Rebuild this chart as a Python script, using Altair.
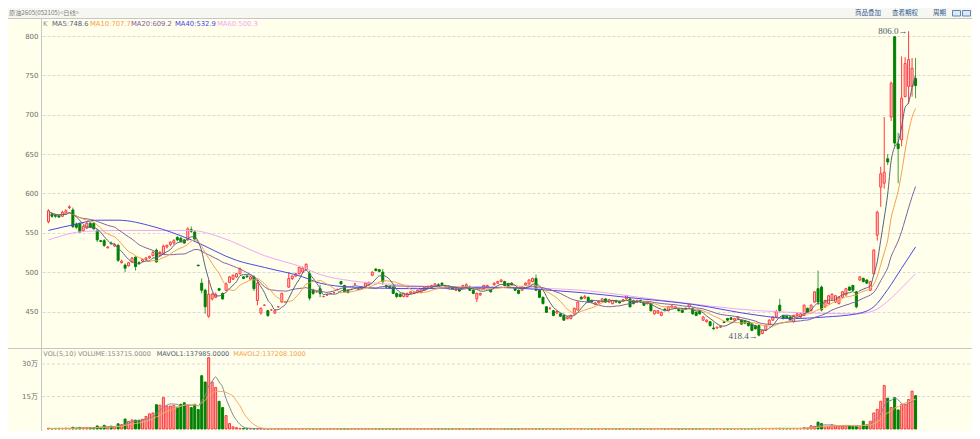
import altair as alt
import pandas as pd

# ---------------- data ----------------
open_ = [564,574,572,572,571,575,582,579,561,562, 553,556,562,562,553,540,540,531,537,533,
         534,512,509,508,513,519,512,514,516,518, 521,528,521,524,532,535,537,
         544,543,541,541,554,551,509,486,477,444, 466,468,479,473,477,487,491,494,498,494,
         495,491,494,464,
         448,458,451,452,448,456,462,462,481,492, 495,498,500,503,498,477,475,479,469,471,
         473,474,478,488,483,477,478,485,479,480, 482,484,496,504,503,500,483,482,481,473,
         472,469,469,473,473,474,474,477,480,481, 482,484,486,482,482,481,477,478,481,482,
         481,477,466,471,479,481,477,484,486,488, 488,485,486,480,477,477,484,485,488,492,
         477,468,456,454,451,448,447,445,441,441, 447,452,
         468,467,468,464,459,461,463,466,462,460, 464,463,463,466,466,464,462,464,462,460,
         460,447,448,445,453,451,455,454,453,453, 454,456,454,449,451,439,437,437,429,429,
         430,437,441,442,439,441,439,438,437,434, 432,432,422,426,434,439,
         443,458,445,444,443,437,445,443,445,454, 451,462,479,481,456,460,466,462,460,468,
         471,481,483,475,490,492,490,477,498,547, 608,613,644,697,799,663,668,723,736,736,746]
high = [580,576,574,574,578,580,585,582,563,563, 560,564,564,563,555,541,542,533,539,537,
        536,516,511,513,519,520,514,517,519,521, 527,530,527,535,535,539,542,
        546,545,542,557,558,553,509,492,479,490, 474,474,480,474,487,495,497,499,506,495,
        496,495,496,490,
        455,459,452,453,452,457,474,463,500,496, 499,507,507,511,502,479,476,484,470,471,
        473,474,479,489,484,478,479,486,480,482, 487,488,501,505,504,504,484,483,482,474,
        473,474,474,476,476,478,480,482,483,484, 486,486,487,484,483,482,480,479,484,486,
        483,478,474,474,484,484,478,487,489,491, 489,486,487,481,478,482,487,491,493,497,
        478,469,457,456,452,451,448,446,444,446, 455,463,
        470,471,469,465,462,464,467,467,466,465, 465,464,466,471,467,465,465,465,463,463,
        461,452,452,450,454,457,458,457,454,454, 455,461,455,450,452,444,440,438,436,431,
        432,438,442,443,442,444,440,439,438,435, 433,433,427,433,440,444,
        452,466,446,445,444,446,448,448,459,455, 459,476,502,483,465,471,473,471,469,476,
        480,482,484,476,495,493,491,489,529,578, 634,697,650,742,800,677,774,773,806,772,772]
low = [562,569,569,569,570,574,580,556,555,550, 551,555,556,554,538,538,532,530,535,532,
       513,511,500,507,512,502,509,513,515,517, 520,512,520,522,530,533,535,
       539,538,536,540,550,540,508,473,447,442, 464,467,476,465,476,486,490,493,497,491,
       493,490,476,458,
       446,457,443,451,447,455,461,461,480,490, 494,497,499,502,464,471,474,468,468,470,
       472,473,477,484,474,473,477,484,478,479, 481,483,495,501,500,484,480,479,472,467,
       468,468,468,472,472,473,473,476,479,480, 481,481,483,480,479,478,476,475,480,481,
       476,472,462,470,478,480,474,483,485,487, 482,481,483,476,472,476,483,484,487,476,
       467,459,448,452,444,447,443,438,440,440, 446,451,
       465,466,461,461,458,460,462,461,461,459, 461,460,462,465,455,459,461,461,457,459,
       450,446,447,444,451,450,454,453,450,448, 452,455,446,444,446,438,436,431,427,428,
       429,435,438,439,438,440,433,434,431,425, 427,418.4,421,425,433,438,
       442,449,440,441,438,436,444,442,444,448, 450,461,458,450,455,459,465,461,459,467,
       470,476,476,454,489,487,485,476,497,540, 583,606,636,692,660,613,660,722,714,723,721]
close = [578,571,571,570,576,578,583,558,557,551, 558,562,557,555,541,539,534,532,536,535,
         515,514,505,512,518,507,511,516,518,520, 525,513,525,533,534,538,540,
         541,539,537,555,552,542,508,477,456,472, 472,472,477,466,485,494,496,498,504,492,
         494,494,479,486,
         454,458,445,452,451,456,473,462,492,495, 498,506,505,510,467,473,475,473,469,471,
         473,474,478,485,475,474,478,485,479,481, 486,487,500,502,501,488,481,480,473,469,
         469,473,473,475,475,477,479,481,482,483, 485,482,484,481,480,479,479,476,483,484,
         477,473,473,473,483,483,475,486,488,490, 483,482,484,477,473,481,486,490,492,477,
         468,460,449,454,445,450,444,439,443,445, 454,462,
         466,469,462,462,461,463,466,462,465,464, 462,461,465,470,456,460,464,462,458,462,
         451,451,451,449,452,456,457,456,451,449, 453,460,447,445,447,443,439,432,428,430,
         431,436,439,440,441,443,434,435,432,426, 428,420,426,432,439,443,
         450,451,441,442,439,445,447,447,458,449, 458,475,462,452,464,470,472,470,468,475,
         479,477,477,456,494,488,486,488,528,576, 625,627,640,740,664,657,721,765,770,759,737]
volume = [3000,2000,2500,3000,2500,3500,2000,8000,4000,7500, 4000,6000,5000,6000,14000,8000,17000,9000,13000,10000,
          24000,20000,46000,35000,42000,41000,40000,45000,58000,70000, 74000,112000,110000,145000,106000,106000,108000,
          101000,114000,121000,110000,99000,114000,90000,246000,217000,329000, 217000,192000,128000,99000,62000,25000,10000,6000,3000,2000,
          1500,1500,1500,1200,
          1200,1000,1500,800,1000,900,1300,1100,1600,1400, 1200,1500,1300,1600,1800,1200,900,1100,800,700,
          800,900,1000,1200,1100,900,800,1000,900,1000, 1100,1200,1500,1300,1200,1400,1100,1000,1200,1100,
          900,1000,900,800,900,1000,1100,1000,900,1000, 1100,1000,1200,1100,1000,900,1000,900,1100,1200,
          1000,1100,1300,1000,1100,1000,900,1200,1100,1300, 1200,1000,1100,1000,1100,1200,1300,1400,1500,1600,
          1500,1700,1800,1400,1600,1500,1400,1700,1500,1600, 1800,2000,
          1800,1500,1600,1400,1300,1400,1500,1300,1400,1200, 1300,1200,1400,1500,1600,1400,1300,1200,1300,1400,
          1600,1500,1400,1300,1200,1400,1300,1200,1300,1400, 1300,1500,1600,1500,1400,1700,1600,1800,2000,1900,
          1800,1700,1600,1700,1600,1700,1900,2000,2100,2400, 2300,2800,2600,2500,2400,2600,
          2800,3200,2600,2400,2500,2700,2600,3000,
          6000,4000,15000,12000,32000,25000,12000,12000,18000,15000,
          12000,14000,16000,15000,14000,14000,10000,36000,18000,36000,
          74000,91000,128000,201000,142000,99000,145000,88000,114000,114000,
          136000,175000,153715]

ma40_idx = [0, 8, 14, 20, 30, 41, 54, 62, 73, 78, 87, 106, 125, 144, 153, 166, 185, 204, 213, 223, 232, 237, 241, 245, 249]
ma40_val = [553, 561, 566, 566, 558, 541, 515, 506, 494, 486, 481, 479, 481, 477, 474, 468, 459, 445, 441, 443, 447, 456, 478, 505, 532]
ma60_idx = [0, 11, 22, 41, 49, 62, 73, 78, 87, 97, 116, 136, 153, 175, 204, 220, 232, 237, 241, 245, 249]
ma60_val = [541, 552, 553, 553, 545, 521, 506, 497, 489, 485, 481, 480, 477, 465, 451, 448, 447, 451, 463, 480, 498]

price_ticks = [450, 500, 550, 600, 650, 700, 750, 800]
vol_ticks = [300000, 150000]
vol_tick_text = ["30万", "15万"]

mark_idx = [247, 204]
mark_val = [806.0, 418.4]
mark_text = ["806.0→", "418.4→"]

title_text = "原油2605(052105)<日线>"
menu_items = ["商品叠加", "查看期权", "周期"]
legend_items = ["K", "MA5:748.6", "MA10:707.7", "MA20:609.2", "MA40:532.9", "MA60:500.3"]
vol_items = ["VOL(5,10) VOLUME:153715.0000", "MAVOL1:137985.0000", "MAVOL2:137208.1000"]

N = len(close)
assert len(open_) == N and len(high) == N and len(low) == N and len(volume) == N

df = pd.DataFrame({"i": list(range(N)), "o": open_, "h": high, "l": low, "c": close, "v": volume})
ma40 = pd.DataFrame({"i": ma40_idx, "m": ma40_val})
ma60 = pd.DataFrame({"i": ma60_idx, "m": ma60_val})
ann = pd.DataFrame({"i": mark_idx, "p": mark_val, "t": mark_text})
vt = pd.DataFrame({"t": vol_ticks, "s": vol_tick_text})
one = pd.DataFrame({"k": [0]})

# ---------------- style / layout ----------------
# whole chart = 964 x 423 so that, with the 8px page margin, the page fits the 980x439 window
TOP = 10
W, H = 930, 413
FONT = "DejaVu Sans, Noto Sans CJK SC"
CJK = "Noto Sans CJK SC"
BG = "#FFFFEC"
RED = "#FF3A3A"
PINK = "#FFD8D8"
PINKV = "#FFB0B0"
GREEN = "#008000"
GREEN_W = "#3E9E3E"
C_MA5 = "#55647B"
C_MA10 = "#F5A04A"
C_MA20 = "#85609F"
C_MA40 = "#4848E6"
C_MA60 = "#F2A6F2"
C_MV1 = "#7D8A9C"
C_MV2 = "#F6A85C"
LINE = "#C6C6C6"

step = 876.5 / (N - 1)
xs = alt.Scale(domain=[-1.5 / step, (W - 1.5) / step], nice=False, zero=False)
X = alt.X("i:Q", scale=xs, axis=None)
ys = alt.Scale(domain=[450, 800], range=[293.5, 18], nice=False, zero=False)
vs = alt.Scale(domain=[0, 300000], range=[411, 346], nice=False, zero=True)

yaxis = alt.Axis(values=price_ticks, title=None, domain=False, ticks=False, tickSize=0,
                 labelPadding=4, labelFont=FONT, labelFontSize=7, labelColor="#707070",
                 grid=True, gridColor="#D9D9D9", gridDash=[3, 2], gridWidth=1)


def PY(field):
    return alt.Y(field, scale=ys, axis=yaxis)


def VY(field):
    return alt.Y(field, scale=vs, axis=None)


base = alt.Chart(df)
up = "datum.c >= datum.o"
down = "datum.c < datum.o"

wick_up = base.transform_filter(up).mark_rule(color=RED, strokeWidth=1).encode(x=X, y=PY("l:Q"), y2="h:Q")
wick_dn = base.transform_filter(down).mark_rule(color=GREEN_W, strokeWidth=1).encode(x=X, y=PY("l:Q"), y2="h:Q")
body_up = base.transform_filter(up).mark_bar(size=2, fill=PINK, stroke=RED, strokeWidth=1).encode(x=X, y=PY("o:Q"), y2="c:Q")
body_dn = base.transform_filter(down).mark_bar(size=2, fill=GREEN, stroke=GREEN, strokeWidth=1).encode(x=X, y=PY("o:Q"), y2="c:Q")


def ma_line(n, color):
    return (base.transform_window(m="mean(c)", frame=[-(n - 1), 0], sort=[alt.SortField("i")])
            .mark_line(color=color, strokeWidth=1, interpolate="monotone")
            .encode(x=X, y=PY("m:Q")))


l5 = ma_line(5, C_MA5)
l10 = ma_line(10, C_MA10)
l20 = ma_line(20, C_MA20)
l40 = alt.Chart(ma40).mark_line(color=C_MA40, strokeWidth=1, interpolate="monotone").encode(x=X, y=PY("m:Q"))
l60 = alt.Chart(ma60).mark_line(color=C_MA60, strokeWidth=1, interpolate="monotone").encode(x=X, y=PY("m:Q"))

ann_l = alt.Chart(ann).mark_text(align="right", baseline="middle", dx=-1, font="Liberation Serif, DejaVu Sans",
                                 fontSize=9, color="#4C5A72").encode(x=X, y=PY("p:Q"), text="t:N")

price = alt.layer(wick_up, wick_dn, body_up, body_dn, l60, l40, l20, l10, l5, ann_l)

vbase = alt.Chart(df)
v_up = vbase.transform_filter(up).mark_bar(size=2, fill=PINKV, stroke=RED, strokeWidth=1).encode(x=X, y=VY("v:Q"), y2=alt.datum(0))
v_dn = vbase.transform_filter(down).mark_bar(size=2, fill=GREEN, stroke=GREEN, strokeWidth=1).encode(x=X, y=VY("v:Q"), y2=alt.datum(0))
mv1 = (vbase.transform_window(m="mean(v)", frame=[-4, 0], sort=[alt.SortField("i")])
       .mark_line(color=C_MV1, strokeWidth=1, interpolate="monotone").encode(x=X, y=VY("m:Q")))
mv2 = (vbase.transform_window(m="mean(v)", frame=[-9, 0], sort=[alt.SortField("i")])
       .mark_line(color=C_MV2, strokeWidth=1, interpolate="monotone").encode(x=X, y=VY("m:Q")))
vgrid = alt.Chart(vt).mark_rule(color="#D9D9D9", strokeDash=[3, 2], strokeWidth=1).encode(
    y=VY("t:Q"), x=alt.value(0), x2=alt.value(W))
vlab = alt.Chart(vt).mark_text(align="right", baseline="middle", font=FONT, fontSize=7, color="#707070").encode(
    y=VY("t:Q"), x=alt.value(-4), text="s:N")

vol = alt.layer(vgrid, vlab, v_up, v_dn, mv1, mv2)


def txt(s, x, y, color, size=6.8, font=FONT, align="left"):
    return alt.Chart(one).mark_text(text=s, align=align, baseline="middle", font=font, fontSize=size,
                                    color=color).encode(x=alt.value(x), y=alt.value(y))


def rule(x1, x2, y1, y2, color=LINE):
    return alt.Chart(one).mark_rule(color=color, strokeWidth=1).encode(
        x=alt.value(x1), x2=alt.value(x2), y=alt.value(y1), y2=alt.value(y2))


hdr_bg = alt.Chart(one).mark_rect(fill="#F7F7F2").encode(
    x=alt.value(-34), x2=alt.value(W), y=alt.value(-TOP), y2=alt.value(0))
icon1 = alt.Chart(one).mark_rect(fill="#DDE8F5", stroke="#5B85B5", strokeWidth=1).encode(
    x=alt.value(910.5), x2=alt.value(918.5), y=alt.value(-7.5), y2=alt.value(-2))
icon2 = alt.Chart(one).mark_rect(fill="#DDE8F5", stroke="#5B85B5", strokeWidth=1).encode(
    x=alt.value(920.5), x2=alt.value(928.5), y=alt.value(-7.5), y2=alt.value(-2))

deco = [hdr_bg, icon1, icon2,
        rule(-34, W, 0.5, 0.5), rule(-0.5, -0.5, 0, H), rule(-34, W, 330.5, 330.5),
        txt(title_text, -33, -5, "#7A7A7A", size=6.2, font=CJK)]
for s, x in zip(menu_items, [813, 850, 891]):
    deco.append(txt(s, x, -5, "#2C5A8C", size=6.5, font=CJK))
for s, x, c in zip(legend_items, [1, 10, 48, 89, 133, 175],
                   ["#8C8C8C", C_MA5, C_MA10, C_MA20, C_MA40, C_MA60]):
    deco.append(txt(s, x, 6, c))
for s, x, c in zip(vol_items, [1.3, 114.7, 191.3], ["#8A8A8A", "#4F5D75", C_MA10]):
    deco.append(txt(s, x, 336, c, size=6.5))

chart = (alt.layer(price, vol, *deco)
         .resolve_scale(y="independent")
         .properties(width=W, height=H, background=BG,
                     padding={"left": 34, "top": TOP, "right": 0, "bottom": 0},
                     autosize=alt.AutoSizeParams(type="none"))
         .configure_view(stroke=None))

chart.save("out.html", embed_options={"renderer": "svg", "actions": False})
